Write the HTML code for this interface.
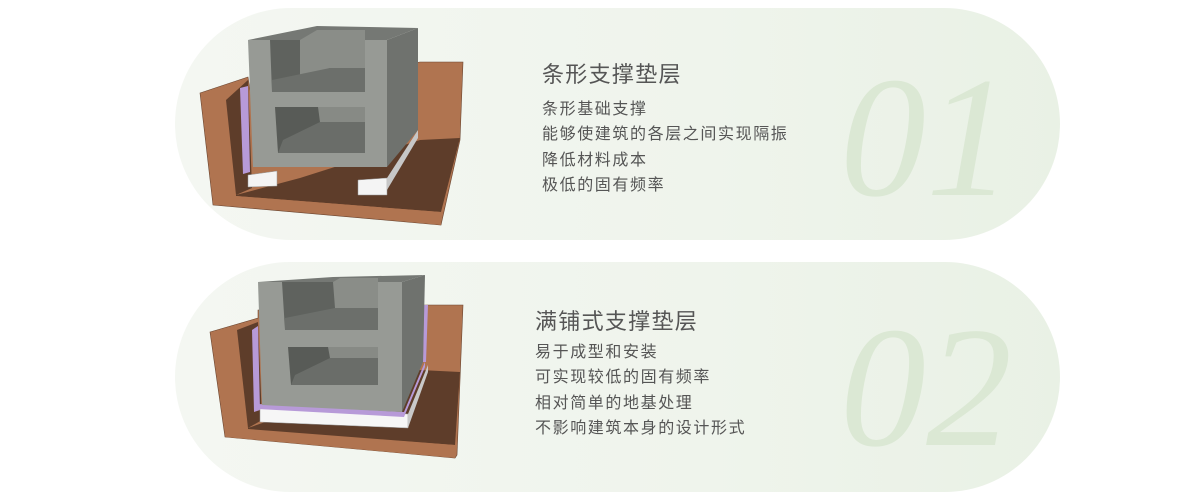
<!DOCTYPE html>
<html><head><meta charset="utf-8"><style>
body{margin:0;width:1200px;height:500px;background:#fff;position:relative;overflow:hidden;font-family:"Liberation Sans","Noto Sans CJK SC",sans-serif;color:#555}
.card{position:absolute;left:175px;width:885px;border-radius:116px;background:linear-gradient(90deg,#f4f7f2 0%,#eff4ec 60%,#e9f1e5 100%)}
.t{position:absolute;font-size:22px;letter-spacing:1.3px;color:#555;white-space:nowrap;line-height:26px}
.l{position:absolute;font-size:16px;line-height:25.3px;color:#555;white-space:nowrap;letter-spacing:1.6px}
.n{position:absolute;font-family:"Liberation Serif",serif;font-style:italic;font-size:172px;color:#dbe8d4;line-height:1}
svg{position:absolute;left:0;top:0}
</style></head><body>
<div class="card" style="top:8px;height:232px"></div>
<div class="card" style="top:262px;height:230px"></div>
<div class="n" style="left:840px;top:52px">01</div>
<div class="n" style="left:840px;top:302px">02</div>
<div class="t" style="left:542px;top:62px">条形支撑垫层</div>
<div class="l" style="left:542px;top:97px">条形基础支撑<br>能够使建筑的各层之间实现隔振<br>降低材料成本<br>极低的固有频率</div>
<div class="t" style="left:535px;top:309px">满铺式支撑垫层</div>
<div class="l" style="left:535px;top:340px">易于成型和安装<br>可实现较低的固有频率<br>相对简单的地基处理<br>不影响建筑本身的设计形式</div>
<svg width="1200" height="500">
<!-- card1 illustration -->
<polygon points="200,93 248,77 250,90 420,62 463,62 460,140 441,225 213,205" fill="#b07450" stroke="#6a4530" stroke-width=".6"/>
<polygon points="226,100 248,80 252,188 236,195" fill="#5e3d2a"/>
<polygon points="236,195 300,178 420,140 460,138 441,212 236,196" fill="#5e3d2a"/>
<polygon points="213,203 441,225 441,212 236,196" fill="#b07450"/>
<polygon points="240,88 248,86 250,172 243,174" fill="#b79ad8"/>
<polygon points="248,175 277,171 277,186 248,187" fill="#f4f4f4" stroke="#999" stroke-width=".5"/>
<polygon points="358,180 387,178 387,195 358,195" fill="#f4f4f4" stroke="#999" stroke-width=".5"/>
<polygon points="387,178 418,130 418,138 387,190" fill="#c7c7c7"/>
<polygon points="248,40 387,40 387,167 253,167" fill="#979a95"/>
<polygon points="387,40 418,28 418,130 387,167" fill="#6f726e"/>
<polygon points="248,40 317,26 418,28 387,40" fill="#757874"/>
<polygon points="270,40 365,40 365,92 272,92" fill="#5f625e"/>
<polygon points="300,40 317,30 365,30 365,68 330,68 300,78" fill="#8a8d88"/>
<polygon points="272,80 330,68 365,68 365,92 272,92" fill="#6c6f6b"/>
<polygon points="275,107 365,107 365,153 278,153" fill="#585b57"/>
<polygon points="318,107 365,107 365,122 320,122" fill="#878a85"/>
<polygon points="283,140 320,122 365,122 365,153 278,153" fill="#6a6d69"/>
<!-- card2 illustration -->
<polygon points="210,332 258,318 258,310 427,305 463,305 457,455 455,458 225,437" fill="#b07450" stroke="#6a4530" stroke-width=".6"/>
<polygon points="237,330 258,322 262,420 248,428" fill="#5e3d2a"/>
<polygon points="248,428 300,410 420,370 460,372 455,445 248,430" fill="#5e3d2a"/>
<polygon points="225,437 455,458 455,445 248,429" fill="#b07450"/>
<polygon points="252,330 258,326 260,410 254,412" fill="#b79ad8"/>
<polygon points="424,305 428,305 426,362 423,362" fill="#b79ad8"/>
<polygon points="260,408 408,414 408,428 260,422" fill="#f6f6f6" stroke="#999" stroke-width=".5"/>
<polygon points="408,414 428,365 428,372 408,428" fill="#c9c9c9"/>
<polygon points="258,404 404,412 425,362 425,367 404,417 258,409" fill="#b79ad8"/>
<polygon points="258,282 402,282 402,412 262,405" fill="#979a95"/>
<polygon points="402,282 425,275 423,362 402,412" fill="#6f726e"/>
<polygon points="258,282 333,277 425,275 402,282" fill="#757874"/>
<polygon points="282,282 378,282 378,330 285,330" fill="#5f625e"/>
<polygon points="333,282 340,278 378,278 378,308 335,308" fill="#8a8d88"/>
<polygon points="285,318 335,308 378,308 378,330 285,330" fill="#6c6f6b"/>
<polygon points="288,347 378,347 378,385 291,385" fill="#585b57"/>
<polygon points="328,347 378,347 378,358 330,358" fill="#878a85"/>
<polygon points="295,375 330,358 378,358 378,385 291,385" fill="#6a6d69"/>
</svg>
</body></html>
